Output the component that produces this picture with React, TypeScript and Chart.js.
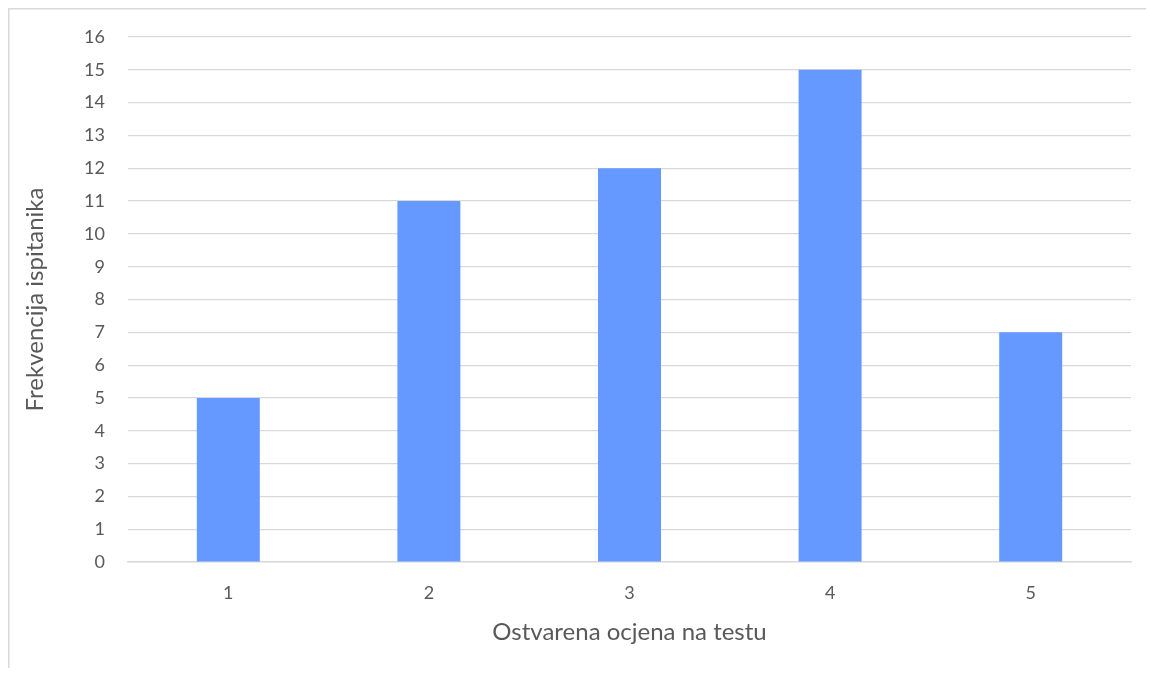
import React, { useEffect, useRef } from "react";
import { Chart, registerables } from "chart.js";

Chart.register(...registerables);

const categories = ["1", "2", "3", "4", "5"];
const frequencies = [5, 11, 12, 15, 7];
const xTitle = "Ostvarena ocjena na testu";
const yTitle = "Frekvencija ispitanika";

const FONT = "Lato, 'Open Sans', sans-serif";
const TEXT = "#595959";
const GRID = "#D9D9D9";

const borderPlugin = {
  id: "outerBorder",
  beforeDraw(chart: any) {
    const ctx = chart.ctx;
    ctx.save();
    ctx.fillStyle = "#ffffff";
    ctx.fillRect(0, 0, chart.width, chart.height);
    ctx.strokeStyle = GRID;
    ctx.lineWidth = 1.5;
    ctx.beginPath();
    ctx.moveTo(0.75, chart.height + 10);
    ctx.lineTo(0.75, 0.75);
    ctx.lineTo(chart.width + 10, 0.75);
    ctx.stroke();
    ctx.restore();
  },
};

export default function App() {
  const ref = useRef<HTMLCanvasElement>(null);
  useEffect(() => {
    if (!ref.current) return;
    const chart = new Chart(ref.current, {
      type: "bar",
      data: {
        labels: categories,
        datasets: [
          {
            data: frequencies,
            backgroundColor: "#6699FF",
            categoryPercentage: 1,
            barPercentage: 0.314,
          },
        ],
      },
      plugins: [borderPlugin],
      options: {
        animation: false,
        responsive: false,
        devicePixelRatio: 1,
        layout: { padding: { left: 0, right: 23, top: 29, bottom: 0 } },
        plugins: { legend: { display: false }, tooltip: { enabled: false } },
        scales: {
          x: {
            grid: { display: false, drawTicks: false },
            border: { display: true, color: GRID, width: 1.5 },
            ticks: { color: TEXT, font: { family: FONT, size: 18 }, padding: 20 },
            title: {
              display: true,
              text: xTitle,
              color: TEXT,
              font: { family: FONT, size: 24 },
              padding: { top: 10, bottom: 21 },
            },
            afterFit: (s: any) => {
              s.height = 106;
            },
          },
          y: {
            min: 0,
            max: 16,
            grid: {
              color: GRID,
              lineWidth: 1.2,
              drawTicks: true,
              tickLength: 23,
              tickColor: "rgba(0,0,0,0)",
            },
            border: { display: false },
            ticks: {
              stepSize: 1,
              color: TEXT,
              font: { family: FONT, size: 18 },
              padding: 0,
            },
            title: {
              display: true,
              text: yTitle,
              color: TEXT,
              font: { family: FONT, size: 24 },
              padding: { top: 13, bottom: 10 },
            },
            afterFit: (s: any) => {
              s.width = 120;
            },
          },
        },
      },
    });
    return () => chart.destroy();
  }, []);
  return (
    <div style={{ width: 1138, height: 660 }}>
      <canvas ref={ref} width={1146} height={660} style={{ display: "block", width: 1146, height: 660 }} />
    </div>
  );
}
